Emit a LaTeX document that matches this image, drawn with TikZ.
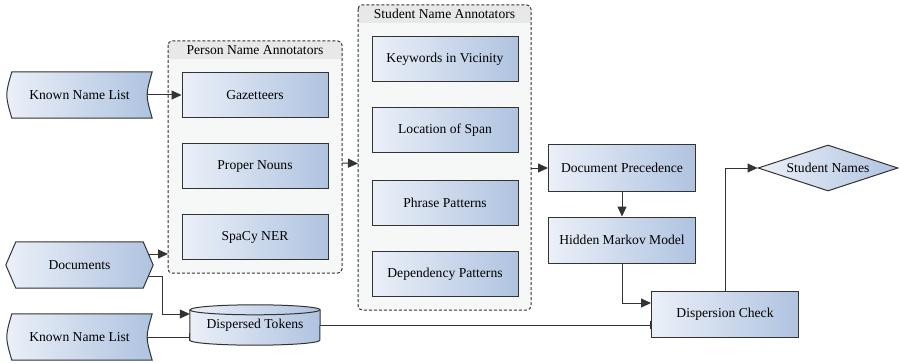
\documentclass[tikz,border=0pt]{standalone}
\usepackage{fontspec}
\setmainfont{Liberation Serif}
\usetikzlibrary{arrows.meta,shapes.geometric,backgrounds}
\definecolor{boxlight}{HTML}{EBF0F8}
\definecolor{boxdark}{HTML}{AFC3E0}
\definecolor{edgegray}{HTML}{333333}
\definecolor{panelfill}{HTML}{F6F7F7}
\definecolor{panelhead}{HTML}{E8E8E8}

\begin{document}
\begin{tikzpicture}[
    x=1pt,y=1pt,
    font=\fontsize{13.6}{16}\selectfont,
    proc/.style={draw=edgegray,line width=1pt,left color=boxlight,right color=boxdark,
      minimum width=146pt,minimum height=45pt,inner sep=0pt},
    store/.style={draw=edgegray,line width=1pt,left color=boxlight,right color=boxdark},
    hold/.style={minimum width=145pt,minimum height=46pt,inner sep=0pt},
    panel/.style={fill=panelfill,inner sep=0pt,outer sep=0pt,rounded corners=4pt},
    rim/.style={draw=edgegray,dash pattern=on 3pt off 2pt,line width=1pt,rounded corners=4pt},
    flow/.style={-{Triangle[length=10pt,width=9pt]},draw=edgegray,line width=1pt},
    stop/.style={-{Bar[width=8pt,line width=1pt]},draw=edgegray,line width=1pt}
  ]
  \useasboundingbox (0,0) rectangle (899,362);

  % annotator panels
  \node[panel,minimum width=174pt,minimum height=232pt] (person) at (255,205) {};
  \fill[panelhead] ([yshift=-18pt]person.north west) [rounded corners=4pt] -- (person.north west)
    -- (person.north east) [sharp corners] -- ([yshift=-18pt]person.north east) -- cycle;
  \draw[rim] (person.north west) rectangle (person.south east);
  \node (persontitle) at ([yshift=-9pt]person.north) {Person Name Annotators};

  \node[panel,minimum width=173pt,minimum height=305pt] (student) at (444.5,204.5) {};
  \fill[panelhead] ([yshift=-18pt]student.north west) [rounded corners=4pt] -- (student.north west)
    -- (student.north east) [sharp corners] -- ([yshift=-18pt]student.north east) -- cycle;
  \draw[rim] (student.north west) rectangle (student.south east);
  \node (studenttitle) at ([yshift=-9pt]student.north) {Student Name Annotators};

  % annotators
  \node[proc] (gaz) at (255,267) {Gazetteers};
  \node[proc] (noun) at (255,196) {Proper Nouns};
  \node[proc] (ner) at (255,125) {SpaCy NER};

  \node[proc] (kw) at (445,303) {Keywords in Vicinity};
  \node[proc] (span) at (445,232) {Location of Span};
  \node[proc] (phrase) at (445,159) {Phrase Patterns};
  \node[proc] (dep) at (445,88) {Dependency Patterns};

  % later steps
  \node[proc,minimum width=147pt,minimum height=46pt] (prec) at (622,194) {Document Precedence};
  \node[proc,minimum width=147pt,minimum height=46pt] (hmm) at (622,122) {Hidden Markov Model};
  \node[proc,minimum width=147pt,minimum height=46pt] (check) at (725,48) {Dispersion Check};
  \node[diamond,store,aspect=3,minimum width=140pt,minimum height=46pt,inner sep=0pt]
    (names) at (828,194) {Student Names};

  % inputs
  \node[hold] (known1) at (79.5,267) {Known Name List};
  \node[hold,minimum width=147pt] (docs) at (79.5,97) {Documents};
  \node[hold] (known2) at (79.5,25) {Known Name List};
  \node[hold,minimum width=130pt,minimum height=40pt] (disp) at (255,37) {Dispersed Tokens};

  \begin{scope}[on background layer]
    \path[store] ([xshift=5pt]known1.north west) -- (known1.north east)
      .. controls ([xshift=-6.7pt]known1.east) .. (known1.south east)
      -- ([xshift=5pt]known1.south west)
      .. controls ([xshift=-1.7pt]known1.west) .. ([xshift=5pt]known1.north west) -- cycle;
    \path[store] ([xshift=5pt]known2.north west) -- (known2.north east)
      .. controls ([xshift=-6.7pt]known2.east) .. (known2.south east)
      -- ([xshift=5pt]known2.south west)
      .. controls ([xshift=-1.7pt]known2.west) .. ([xshift=5pt]known2.north west) -- cycle;
    \path[store] ([xshift=10pt]docs.north west) -- ([xshift=-10pt]docs.north east) -- (docs.east)
      -- ([xshift=-10pt]docs.south east) -- ([xshift=10pt]docs.south west) -- (docs.west) -- cycle;
    \path[store] ([yshift=-5pt]disp.north west) -- ([yshift=5pt]disp.south west)
      arc[start angle=180,end angle=360,x radius=65pt,y radius=5pt]
      -- ([yshift=-5pt]disp.north east)
      arc[start angle=0,end angle=180,x radius=65pt,y radius=5pt] -- cycle;
    \draw[edgegray,line width=1pt] ([yshift=-5pt]disp.north west)
      arc[start angle=180,end angle=360,x radius=65pt,y radius=5pt];
  \end{scope}

  % connectors
  \coordinate (docsup) at ([xshift=-5pt,yshift=11pt]docs.east);
  \coordinate (docslow) at ([xshift=-5pt,yshift=-11pt]docs.east);
  \draw[flow] ([xshift=-5pt]known1.east) -- (gaz.west);
  \draw[flow] (docsup) -- (docsup -| person.west);
  \draw[flow] (docslow) -- ++(14,0) |- ([yshift=11pt]disp.west);
  \draw[stop] ([xshift=-5pt]known2.east) -- (known2.east -| disp.west);
  \draw[stop] (disp.east) -- (check.west |- disp.east);
  \draw[flow] ([yshift=-6pt]person.east) -- ([yshift=-6pt]student.west);
  \draw[flow] (student.east |- prec.west) -- (prec.west);
  \draw[flow] (prec.south) -- (hmm.north);
  \draw[flow] (hmm.south) |- ([yshift=11pt]check.west);
  \draw[flow] (check.north) |- (names.west);
\end{tikzpicture}
\end{document}
